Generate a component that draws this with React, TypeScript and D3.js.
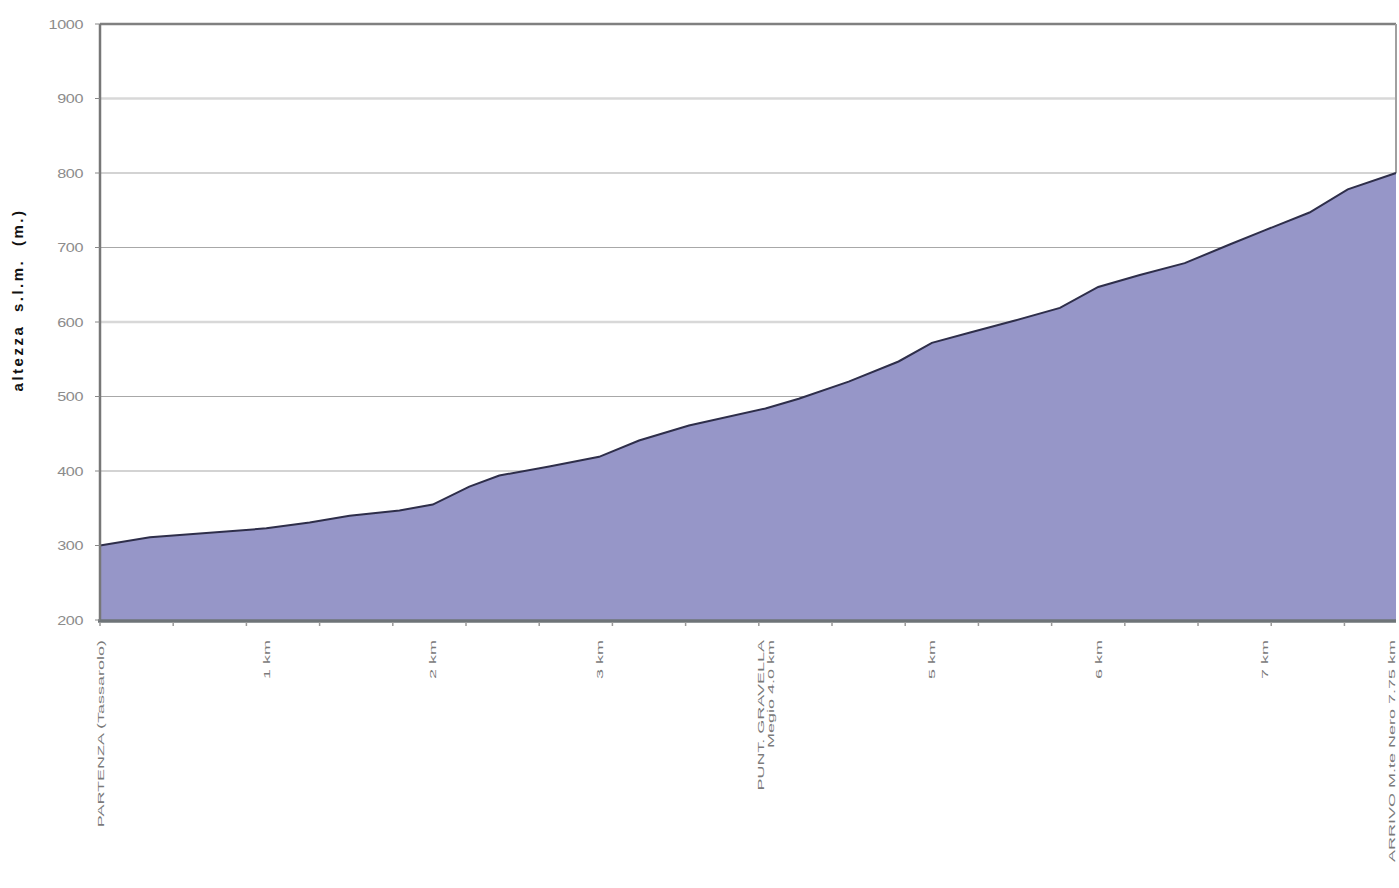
import React, { useEffect, useRef } from "react";
import * as d3 from "d3";

const distanceKm = [0, 0.3, 1.0, 1.26, 1.5, 1.8, 2.0, 2.22, 2.4, 2.7, 3.0, 3.24, 3.54, 4.0, 4.2, 4.5, 4.8, 5.0, 5.23, 5.5, 5.77, 6.0, 6.25, 6.52, 6.79, 7.0, 7.27, 7.5, 7.79];
const altitude = [300, 311, 323, 331, 340, 347, 355, 379, 394, 406, 419, 441, 461, 484, 497, 520, 547, 572, 586, 602, 619, 647, 663, 679, 704, 723, 747, 778, 800];
const yTicks = [200, 300, 400, 500, 600, 700, 800, 900, 1000];
const xLabelPos = [0, 1, 2, 3, 4, 5, 6, 7, 7.75];
const xLabelLines = [
  ["PARTENZA (Tassarolo)"],
  ["1 km"],
  ["2 km"],
  ["3 km"],
  ["PUNT. GRAVELLA", "Megio 4.0 km"],
  ["5 km"],
  ["6 km"],
  ["7 km"],
  ["ARRIVO M.te Nero 7.75 km"],
];
const yTitle = "altezza s.l.m. (m.)";

export default function App() {
  const ref = useRef<SVGSVGElement>(null);
  useEffect(() => {
    const svg = d3.select(ref.current);
    svg.selectAll("*").remove();
    const left = 100, right = 1396, top = 24, bottom = 620;
    const x = d3.scaleLinear().domain([0, 7.79]).range([left, right]);
    const y = d3.scaleLinear().domain([200, 1000]).range([bottom, top]);

    // gridlines
    svg.append("g").selectAll("line").data(yTicks.filter(t => t > 200 && t < 1000)).join("line")
      .attr("x1", left).attr("x2", right).attr("y1", d => y(d)).attr("y2", d => y(d))
      .attr("stroke", d => (d === 900 || d === 600 ? "#d8d8d8" : "#a8a8a8"))
      .attr("stroke-width", d => (d === 900 || d === 600 ? 2.5 : 1.2));

    // borders
    svg.append("line").attr("x1", left).attr("x2", right).attr("y1", y(1000)).attr("y2", y(1000)).attr("stroke", "#808080").attr("stroke-width", 2.5);
    svg.append("line").attr("x1", right).attr("x2", right).attr("y1", y(1000)).attr("y2", y(800)).attr("stroke", "#a0a0a0").attr("stroke-width", 2);

    const pts = distanceKm.map((d, i) => [d, altitude[i]] as [number, number]);
    const area = d3.area<[number, number]>().x(d => x(d[0])).y0(y(200)).y1(d => y(d[1]));
    svg.append("path").datum(pts).attr("d", area).attr("fill", "#9696c8");
    const line = d3.line<[number, number]>().x(d => x(d[0])).y(d => y(d[1]));
    svg.append("path").datum(pts).attr("d", line).attr("fill", "none").attr("stroke", "#2e2e4a").attr("stroke-width", 2);

    // axes lines
    svg.append("line").attr("x1", left).attr("x2", left).attr("y1", top).attr("y2", bottom + 2).attr("stroke", "#777").attr("stroke-width", 2.5);
    svg.append("line").attr("x1", left - 2).attr("x2", right).attr("y1", bottom + 1).attr("y2", bottom + 1).attr("stroke", "#6e7478").attr("stroke-width", 3.5);

    // y ticks and labels
    svg.append("g").selectAll("line").data(yTicks).join("line")
      .attr("x1", left - 5).attr("x2", left).attr("y1", d => y(d)).attr("y2", d => y(d)).attr("stroke", "#888");
    svg.append("g").selectAll("g").data(yTicks).join("g")
      .attr("transform", d => `translate(83,${y(d) + 4.5}) scale(1.35,1)`)
      .append("text").attr("text-anchor", "end")
      .attr("font-family", "Arial, 'Liberation Sans', sans-serif").attr("font-size", 12).attr("fill", "#8c8c8c")
      .attr("letter-spacing", "-0.3")
      .text(d => d);

    // x ticks
    svg.append("g").selectAll("line").data(d3.range(0, 7.8, 0.44)).join("line")
      .attr("x1", d => x(d)).attr("x2", d => x(d)).attr("y1", bottom + 2).attr("y2", bottom + 6).attr("stroke", "#999").attr("stroke-width", 1.5);

    // x labels (rotated)
    xLabelPos.forEach((p, i) => {
      const lines = xLabelLines[i];
      const px = i === xLabelPos.length - 1 ? right - 5 : x(p);
      const g = svg.append("g").attr("transform", `translate(${px},640) rotate(-90) scale(2.0,1)`);
      lines.forEach((t, j) => {
        const dy = (j - (lines.length - 1) / 2) * 10 + 3.5;
        g.append("text").attr("x", 0).attr("y", dy).attr("text-anchor", "end")
          .attr("font-family", "Arial, 'Liberation Sans', sans-serif").attr("font-size", 9).attr("fill", "#7a7a7a")
          .text(t);
      });
    });

    // y title
    svg.append("text").attr("transform", `translate(23,${(top + bottom) / 2 - 22}) rotate(-90)`)
      .attr("text-anchor", "middle").attr("font-family", "Arial, 'Liberation Sans', sans-serif")
      .attr("font-size", 15).attr("font-weight", "bold").attr("fill", "#111").attr("letter-spacing", "2.5")
      .attr("word-spacing", "6")
      .text(yTitle);
  }, []);
  return <svg ref={ref} width={1399} height={888} style={{ position: "absolute", left: 0, top: 0, background: "#fff" }} />;
}
